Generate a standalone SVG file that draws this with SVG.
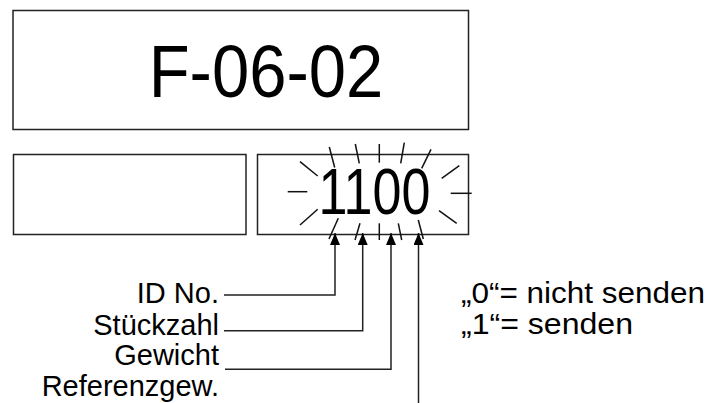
<svg xmlns="http://www.w3.org/2000/svg" width="711" height="403" viewBox="0 0 711 403">
<defs>
<style>
.box{fill:#fff;stroke:#222;stroke-width:1.5}
.ln{fill:none;stroke:#222;stroke-width:1.5}
.ray{fill:none;stroke:#111;stroke-width:1.5}
.t{font-family:'Liberation Sans',Arimo,Arial,Helvetica,sans-serif;fill:#000}
.lbl{font-size:29px;text-anchor:end}
.note{font-size:29px}
</style>
<marker id="ah" viewBox="0 0 12 10" refX="12" refY="5" markerWidth="12" markerHeight="10" markerUnits="userSpaceOnUse" orient="auto">
<path d="M0,0 L12,5 L0,10 Z" fill="#000"/>
</marker>
</defs>
<rect width="711" height="403" fill="#fff"/>
<g id="display-top">
<rect class="box" x="13" y="10.5" width="455.5" height="119"/>
<text class="t" x="148.7" y="96.7" font-size="74" textLength="234.6" lengthAdjust="spacingAndGlyphs">F-06-02</text>
</g>
<g id="display-left">
<rect class="box" x="13.5" y="154.5" width="232.5" height="80"/>
</g>
<g id="display-right">
<rect class="box" x="257.5" y="154.5" width="211" height="80"/>
<text class="t" x="318.5" y="214" font-size="64" textLength="112" lengthAdjust="spacingAndGlyphs">1100</text>
<g class="ray">
<line x1="329.3" y1="147" x2="334.7" y2="167.5"/>
<line x1="355.3" y1="144" x2="359.3" y2="163.3"/>
<line x1="379.3" y1="144" x2="379.3" y2="162.7"/>
<line x1="404.3" y1="142.7" x2="400.7" y2="163.3"/>
<line x1="431" y1="149.3" x2="421.7" y2="168.3"/>
<line x1="300" y1="161.7" x2="317.7" y2="176"/>
<line x1="287.7" y1="191.7" x2="307.3" y2="191.7"/>
<line x1="300" y1="225" x2="317.7" y2="209.3"/>
<line x1="441.7" y1="178.3" x2="459.3" y2="165.7"/>
<line x1="450.7" y1="193.3" x2="471.7" y2="193.3"/>
<line x1="439" y1="210.7" x2="456.7" y2="223.3"/>
<line x1="338.3" y1="218.3" x2="329" y2="239"/>
<line x1="360" y1="223.3" x2="355" y2="240"/>
<line x1="379.3" y1="223.3" x2="379.3" y2="240"/>
<line x1="398.3" y1="223.3" x2="401.7" y2="240"/>
<line x1="418.3" y1="220" x2="423.3" y2="239"/>
</g>
</g>
<g id="label-id">
<text class="t lbl" x="219" y="302.7">ID No.</text>
</g>
<g id="label-stueckzahl">
<text class="t lbl" x="219" y="335">Stückzahl</text>
</g>
<g id="label-gewicht">
<text class="t lbl" x="219" y="365">Gewicht</text>
</g>
<g id="label-referenz">
<text class="t lbl" x="219" y="396">Referenzgew.</text>
</g>
<g id="legend">
<text class="t note" x="461" y="303.3" textLength="244" lengthAdjust="spacingAndGlyphs">„0“= nicht senden</text>
<text class="t note" x="461" y="334.3" textLength="172" lengthAdjust="spacingAndGlyphs">„1“= senden</text>
</g>
<g id="connectors">
<polyline class="ln" points="224,295 335,295 335,233" marker-end="url(#ah)"/>
<polyline class="ln" points="224,330.7 362.7,330.7 362.7,233" marker-end="url(#ah)"/>
<polyline class="ln" points="225,369.3 391,369.3 391,233" marker-end="url(#ah)"/>
<polyline class="ln" points="418.5,403 418.5,233" marker-end="url(#ah)"/>
</g>
</svg>
